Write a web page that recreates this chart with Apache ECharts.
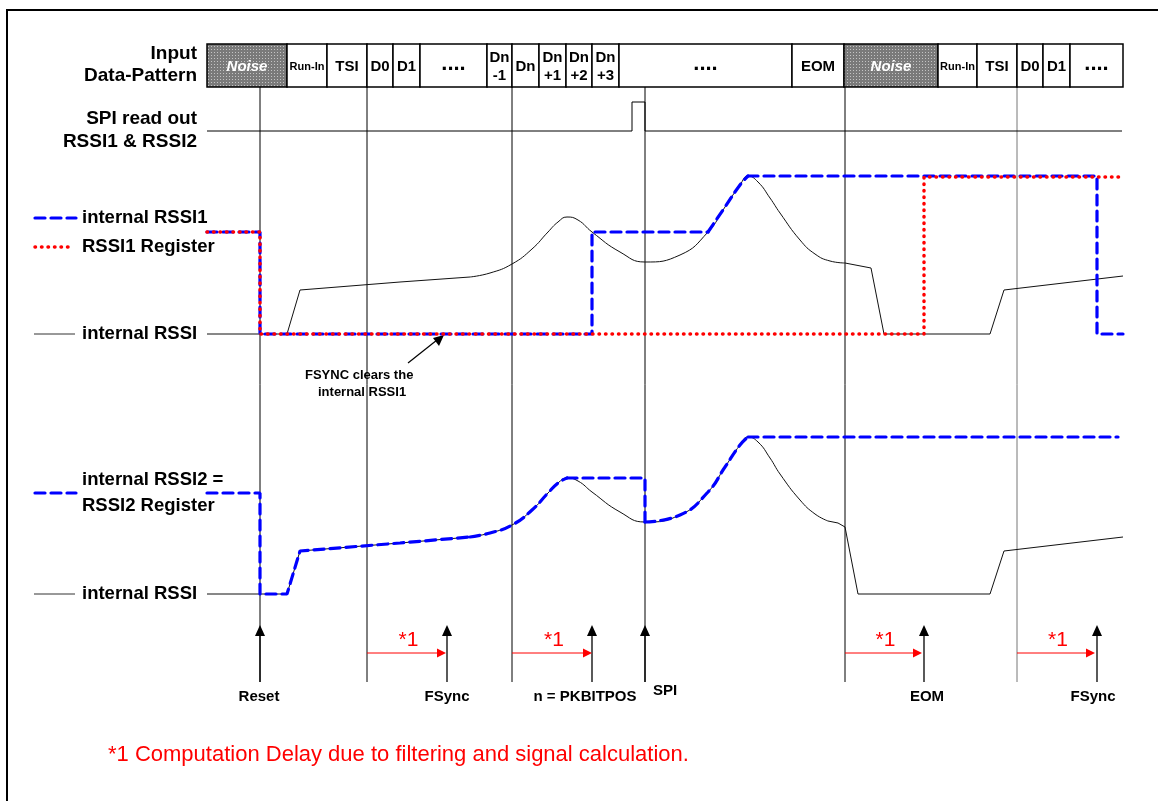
<!DOCTYPE html>
<html>
<head>
<meta charset="utf-8">
<title>RSSI timing</title>
<script src="https://cdn.jsdelivr.net/npm/echarts@6/dist/echarts.min.js"></script>
<style>
  html, body { margin: 0; padding: 0; background: #fff; }
  #chart { width: 1158px; height: 801px; }
</style>
</head>
<body>
<div id="chart"></div>
<script>
// time runs along x, signal level along y (both in drawing units of the page)
const patternEdges = [207, 287, 327, 367, 393, 420, 487, 512, 539, 566, 592, 619, 792, 844, 938, 977, 1017, 1043, 1070, 1123]
const patternLabels = ['Noise', 'Run-In', 'TSI', 'D0', 'D1', '....', 'Dn\n-1', 'Dn', 'Dn\n+1', 'Dn\n+2', 'Dn\n+3', '....',
  'EOM', 'Noise', 'Run-In', 'TSI', 'D0', 'D1', '....']

const markerTimes = [260, 367, 512, 645, 845, 1017]
const eventTimes = [260, 447, 592, 645, 924, 1097]
const eventNames = ['Reset', 'FSync', 'n = PKBITPOS', 'SPI', 'EOM', 'FSync']
const delayStarts = [367, 512, 845, 1017]
const delayEnds = [446, 592, 922, 1095]

const spiReadout = [[207, 131], [632, 131], [632, 102], [645, 102], [645, 131], [1122, 131]]

// upper panel: internal RSSI (black)
const rssiUpperA = [[207, 334], [287, 334], [300, 290], [400, 282], [470, 277]]
const rssiUpperCurve = [[470, 277], [490, 273], [512, 264], [532, 249], [548, 232], [558, 222], [567, 217], [578, 220], [592, 232],
  [620, 252], [645, 262], [680, 255], [708, 232], [725, 207], [740, 185], [748, 176], [758, 182], [770, 198],
  [780, 213], [800, 240], [815, 254], [830, 261], [845, 263]]
const rssiUpperB = [[845, 263], [871, 268], [884, 334], [990, 334], [1004, 290], [1123, 276]]

// upper panel: internal RSSI1 (blue) and RSSI1 register (red)
const rssi1A = [[207, 232], [260, 232], [260, 334], [592, 334], [592, 232], [708, 232]]
const rssi1Curve = [[708, 232], [725, 207], [740, 185], [748, 176]]
const rssi1B = [[748, 176], [1097, 176], [1097, 334], [1123, 334]]
const rssi1Reg = [[207, 232], [260, 232], [260, 334], [924, 334], [924, 177], [1123, 177]]

// lower panel: internal RSSI (black)
const rssiLowerA = [[207, 594], [287, 594], [300, 551], [400, 543], [470, 537]]
const rssiLowerCurve = [[470, 537], [490, 533], [512, 525], [532, 510], [548, 493], [558, 483], [567, 478], [578, 481], [592, 492],
  [620, 512], [645, 522], [680, 515], [708, 492], [725, 467], [740, 445], [748, 437], [758, 442], [770, 458],
  [780, 474], [800, 500], [815, 514], [828, 521]]
const rssiLowerB = [[828, 521], [838, 523], [845, 527], [858, 594], [990, 594], [1004, 551], [1123, 537]]

// lower panel: internal RSSI2 = RSSI2 register (blue)
const rssi2A = [[207, 493], [260, 493], [260, 594], [287, 594], [300, 551], [400, 543], [470, 537]]
const rssi2Curve1 = [[470, 537], [490, 533], [512, 525], [532, 510], [548, 493], [558, 483], [567, 478]]
const rssi2B = [[567, 478], [645, 478], [645, 522]]
const rssi2Curve2 = [[645, 522], [680, 515], [708, 492], [725, 467], [740, 445], [748, 437]]
const rssi2C = [[748, 437], [1118, 437]]

const BOX_TOP = 44
const BOX_BOTTOM = 87
const LINE_BOTTOM = 682
const ARROW_TIP = 625
const DELAY_LEVEL = 653
const FONT = '"Liberation Sans", Arial, sans-serif'
const BLUE = '#0000ff'
const RED = '#ff0000'

// dotted grey fill for the noise boxes
const noiseCanvas = document.createElement('canvas')
noiseCanvas.width = 3
noiseCanvas.height = 3
const nctx = noiseCanvas.getContext('2d')
nctx.fillStyle = '#7a7a7a'
nctx.fillRect(0, 0, 3, 3)
nctx.fillStyle = '#c4c4c4'
nctx.fillRect(1, 1, 1, 1)

const chart = echarts.init(document.getElementById('chart'), null, { renderer: 'canvas' })

function trace(data, color, type, width, smooth, z) {
  return {
    type: 'line',
    data: data,
    smooth: smooth ? 0.5 : false,
    symbol: 'none',
    silent: true,
    animation: false,
    z: z,
    lineStyle: { color: color, width: width, type: type, cap: type === 'solid' ? 'butt' : 'round' }
  }
}
const black = (d, s) => trace(d, '#111', 'solid', 1, s, 3)
const blue = (d, s) => trace(d, BLUE, [10, 6], 3.2, s, 4)

const boxData = patternLabels.map((l, i) => [patternEdges[i], patternEdges[i + 1]])

function renderBox(params, api) {
  const p0 = api.coord([api.value(0), BOX_TOP])
  const p1 = api.coord([api.value(1), BOX_BOTTOM])
  const label = patternLabels[params.dataIndex]
  const noise = label === 'Noise'
  let font = 'bold 15px ' + FONT
  let dy = 1
  if (noise) font = 'italic bold 15px ' + FONT
  if (label === 'Run-In') font = 'bold 11px ' + FONT
  if (label === '....') { font = 'bold 22px ' + FONT; dy = -2 }
  return {
    type: 'group',
    children: [{
      type: 'rect',
      shape: { x: p0[0], y: p0[1], width: p1[0] - p0[0], height: p1[1] - p0[1] },
      style: { fill: noise ? { image: noiseCanvas, repeat: 'repeat' } : '#fff', stroke: '#000', lineWidth: 1.5 }
    }, {
      type: 'text',
      x: (p0[0] + p1[0]) / 2,
      y: (p0[1] + p1[1]) / 2 + dy,
      style: { text: label, align: 'center', verticalAlign: 'middle', font: font, lineHeight: 18, fill: noise ? '#fff' : '#000' }
    }]
  }
}

function renderMarker(params, api) {
  const a = api.coord([api.value(0), BOX_BOTTOM])
  const b = api.coord([api.value(0), LINE_BOTTOM])
  return {
    type: 'line',
    shape: { x1: a[0], y1: a[1], x2: b[0], y2: b[1] },
    style: { stroke: api.value(0) === 1017 ? '#777' : '#000', lineWidth: 1 }
  }
}

function renderEvent(params, api) {
  const tip = api.coord([api.value(0), ARROW_TIP])
  const base = api.coord([api.value(0), LINE_BOTTOM])
  return {
    type: 'group',
    children: [{
      type: 'line',
      shape: { x1: base[0], y1: base[1], x2: tip[0], y2: tip[1] + 8 },
      style: { stroke: '#000', lineWidth: 1.3 }
    }, {
      type: 'polygon',
      shape: { points: [[tip[0], tip[1]], [tip[0] - 5, tip[1] + 11], [tip[0] + 5, tip[1] + 11]] },
      style: { fill: '#000' }
    }]
  }
}

function renderDelay(params, api) {
  const a = api.coord([api.value(0), DELAY_LEVEL])
  const b = api.coord([api.value(1), DELAY_LEVEL])
  return {
    type: 'group',
    children: [{
      type: 'line',
      shape: { x1: a[0], y1: a[1], x2: b[0] - 8, y2: b[1] },
      style: { stroke: RED, lineWidth: 1 }
    }, {
      type: 'polygon',
      shape: { points: [[b[0], b[1]], [b[0] - 9, b[1] - 4.5], [b[0] - 9, b[1] + 4.5]] },
      style: { fill: RED }
    }, {
      type: 'text',
      x: (a[0] + b[0]) / 2 + 2,
      y: a[1] - 13,
      style: { text: '*1', align: 'center', verticalAlign: 'middle', font: '21px ' + FONT, fill: RED }
    }]
  }
}

function txt(text, x, y, opts) {
  return {
    type: 'text', x: x, y: y, silent: true,
    style: Object.assign({ text: text, font: 'bold 18.5px ' + FONT, fill: '#000', verticalAlign: 'middle', align: 'left' }, opts || {})
  }
}
function seg(x1, y, x2, stroke, dash, width) {
  return {
    type: 'line', silent: true,
    shape: { x1: x1, y1: y, x2: x2, y2: y },
    style: { stroke: stroke, lineWidth: width, lineDash: dash, lineCap: dash ? 'round' : 'butt' }
  }
}

const leftLabel = { align: 'right', font: 'bold 19px ' + FONT }
const eventLabel = { align: 'center', font: 'bold 15px ' + FONT }
const noteLabel = { font: 'bold 13px ' + FONT }

chart.setOption({
  animation: false,
  backgroundColor: '#fff',
  grid: { left: 0, right: 0, top: 0, bottom: 0 },
  xAxis: { type: 'value', min: 0, max: 1158, show: false },
  yAxis: { type: 'value', min: 0, max: 801, inverse: true, show: false },
  graphic: [
    { type: 'rect', silent: true, shape: { x: 7, y: 10, width: 1160, height: 800 }, style: { fill: 'none', stroke: '#000', lineWidth: 2 } },
    txt('Input', 197, 54, leftLabel),
    txt('Data-Pattern', 197, 76, leftLabel),
    txt('SPI read out', 197, 119, leftLabel),
    txt('RSSI1 & RSSI2', 197, 142, leftLabel),
    seg(35, 218, 76, BLUE, [10, 6], 3.2),
    txt('internal RSSI1', 82, 218),
    seg(35, 247, 71, RED, [0.5, 6], 3.5),
    txt('RSSI1 Register', 82, 247),
    seg(34, 334, 75, '#333', null, 1),
    txt('internal RSSI', 82, 334),
    seg(35, 493, 76, BLUE, [10, 6], 3.2),
    txt('internal RSSI2 =', 82, 480),
    txt('RSSI2 Register', 82, 506),
    seg(34, 594, 75, '#333', null, 1),
    txt('internal RSSI', 82, 594),
    txt('FSYNC clears the', 305, 375, noteLabel),
    txt('internal RSSI1', 318, 392, noteLabel),
    { type: 'line', silent: true, shape: { x1: 408, y1: 363, x2: 437, y2: 340 }, style: { stroke: '#000', lineWidth: 1.2 } },
    { type: 'polygon', silent: true, shape: { points: [[444, 335], [433, 338], [439, 346]] }, style: { fill: '#000' } },
    txt(eventNames[0], 259, 697, eventLabel),
    txt(eventNames[1], 447, 697, eventLabel),
    txt(eventNames[2], 585, 697, eventLabel),
    txt(eventNames[3], 665, 691, eventLabel),
    txt(eventNames[4], 927, 697, eventLabel),
    txt(eventNames[5], 1093, 697, eventLabel),
    txt('*1 Computation Delay due to filtering and signal calculation.', 108, 755, { font: '22px ' + FONT, fill: RED })
  ],
  series: [
    { type: 'custom', data: markerTimes.map(t => [t]), renderItem: renderMarker, silent: true, z: 1 },
    { type: 'custom', data: boxData, renderItem: renderBox, silent: true, z: 2 },
    trace(spiReadout, '#000', 'solid', 1, false, 3),
    black(rssiUpperA), black(rssiUpperCurve, true), black(rssiUpperB),
    black(rssiLowerA), black(rssiLowerCurve, true), black(rssiLowerB),
    blue(rssi1A), blue(rssi1Curve, true), blue(rssi1B),
    blue(rssi2A), blue(rssi2Curve1, true), blue(rssi2B), blue(rssi2Curve2, true), blue(rssi2C),
    trace(rssi1Reg, RED, [0.5, 6], 3.5, false, 5),
    { type: 'custom', data: eventTimes.map(t => [t]), renderItem: renderEvent, silent: true, z: 6 },
    { type: 'custom', data: delayStarts.map((s, i) => [s, delayEnds[i]]), renderItem: renderDelay, silent: true, z: 6 }
  ]
})
</script>
</body>
</html>
